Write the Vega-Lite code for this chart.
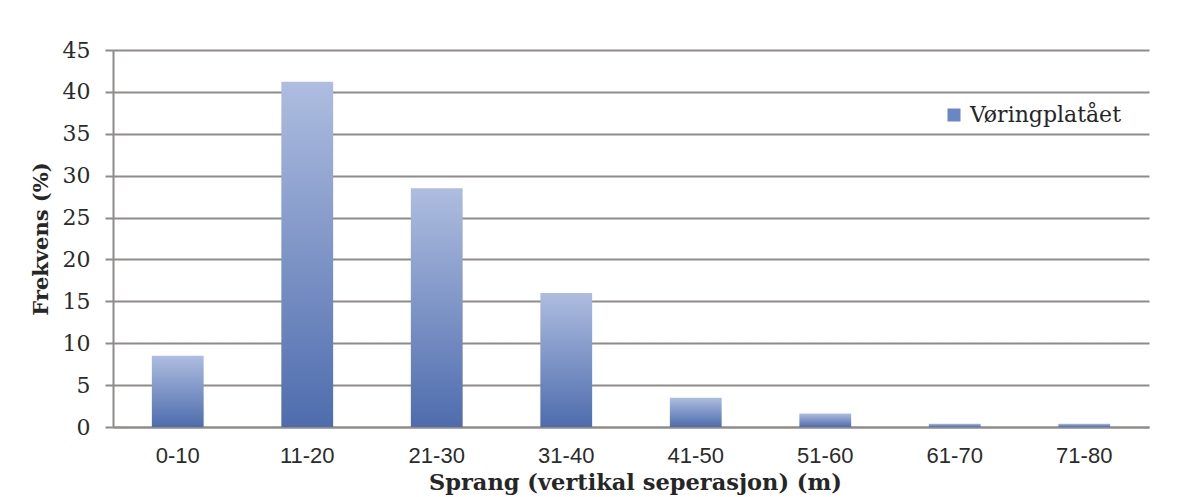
{
  "$schema": "https://vega.github.io/schema/vega-lite/v6.json",
  "width": 1036,
  "height": 377,
  "autosize": {"type": "none"},
  "padding": {"left": 113, "top": 50, "right": 43, "bottom": 70},
  "background": "#ffffff",
  "config": {
    "view": {"stroke": null},
    "axis": {"gridColor": "#8f8b87", "gridWidth": 2, "domainColor": "#8f8b87", "domainWidth": 2, "tickColor": "#8f8b87", "tickWidth": 2}
  },
  "data": {
    "values": [
      {"sprang": "0-10", "frekvens": 8.5},
      {"sprang": "11-20", "frekvens": 41.2},
      {"sprang": "21-30", "frekvens": 28.5},
      {"sprang": "31-40", "frekvens": 16},
      {"sprang": "41-50", "frekvens": 3.5},
      {"sprang": "51-60", "frekvens": 1.6},
      {"sprang": "61-70", "frekvens": 0.4},
      {"sprang": "71-80", "frekvens": 0.4}
    ]
  },
  "encoding": {
    "x": {
      "field": "sprang", "type": "nominal", "sort": null,
      "scale": {"paddingInner": 0.6, "paddingOuter": 0.3},
      "axis": {
        "title": "Sprang (vertikal seperasjon) (m)",
        "titleFont": "DejaVu Serif", "titleFontWeight": "bold", "titleFontSize": 22.5, "titleColor": "#262626",
        "titleBaseline": "alphabetic", "titleY": 62, "titleX": 522,
        "labelFont": "Liberation Sans", "labelFontSize": 22, "labelColor": "#2b2b2b", "labelAngle": 0,
        "labelBaseline": "alphabetic", "labelPadding": 35,
        "ticks": false, "tickSize": 0, "domain": true, "grid": false
      }
    },
    "y": {
      "field": "frekvens", "type": "quantitative",
      "scale": {"domain": [0, 45], "nice": false},
      "axis": {
        "title": "Frekvens (%)",
        "titleFont": "DejaVu Serif", "titleFontWeight": "bold", "titleFontSize": 21, "titleColor": "#262626",
        "titlePadding": 11,
        "values": [0, 5, 10, 15, 20, 25, 30, 35, 40, 45],
        "labelFont": "DejaVu Serif", "labelFontSize": 22, "labelColor": "#2b2b2b",
        "labelPadding": 15, "tickSize": 8, "grid": true, "domain": true
      }
    }
  },
  "layer": [
    {
      "mark": {
        "type": "bar",
        "fill": {
          "gradient": "linear", "x1": 0, "y1": 0, "x2": 0, "y2": 1,
          "stops": [
            {"offset": 0, "color": "#aebde0"},
            {"offset": 1, "color": "#4e6cad"}
          ]
        }
      }
    },
    {
      "mark": {"type": "point", "shape": "square", "filled": true, "opacity": 0},
      "encoding": {
        "color": {
          "datum": "Vøringplatået",
          "scale": {"range": ["#6a86c4"]},
          "legend": {
            "title": null, "orient": "none", "legendX": 830, "legendY": 54,
            "symbolType": "square", "symbolSize": 169, "symbolOpacity": 1,
            "labelFont": "DejaVu Serif", "labelFontSize": 22, "labelColor": "#262626",
            "labelOffset": 5, "padding": 0
          }
        }
      }
    }
  ]
}
